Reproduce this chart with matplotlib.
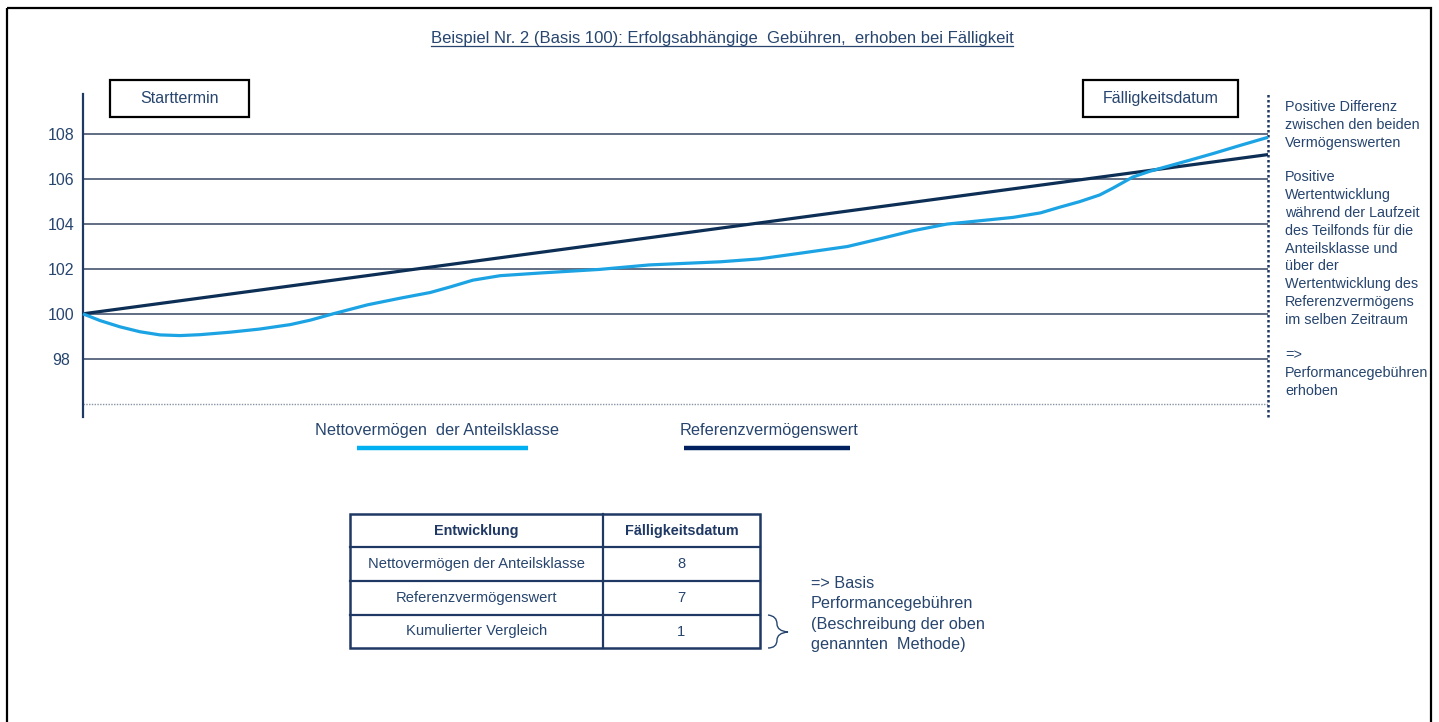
import matplotlib
matplotlib.use("Agg")
import matplotlib.pyplot as plt
from matplotlib.patches import Rectangle, PathPatch
from matplotlib.path import Path

plt.rcParams['font.family'] = ['Liberation Sans', 'DejaVu Sans']

# data (time in % of the period, value on basis 100)
NAV_T = [0, 1.43, 3.12, 4.81, 6.5, 8.19, 9.87, 12.4, 14.9, 17.5, 19.2, 21.1, 24.0,
         26.8, 29.3, 31.0, 32.9, 35.2, 38.6, 43.6, 47.8, 53.8, 57.1, 60.5, 64.5,
         67.3, 70.0, 72.9, 75.7, 78.5, 80.8, 82.4, 84.1, 85.8, 86.9, 88.6, 90.0,
         91.7, 93.4, 95.4, 97.6, 100]
NAV_V = [100.0, 99.7, 99.42, 99.2, 99.06, 99.03, 99.07, 99.18, 99.32, 99.52, 99.72,
         100.0, 100.4, 100.7, 100.95, 101.2, 101.5, 101.7, 101.82, 101.98, 102.18,
         102.32, 102.45, 102.7, 103.0, 103.35, 103.7, 104.0, 104.15, 104.3, 104.5,
         104.75, 105.0, 105.3, 105.6, 106.1, 106.35, 106.6, 106.85, 107.15, 107.5,
         107.87]
REF_T = [0, 100]
REF_V = [100.0, 107.1]

Y_TICKS = [98, 100, 102, 104, 106, 108]
FLOOR = 96

TITLE = "Beispiel Nr. 2 (Basis 100): Erfolgsabhängige  Gebühren,  erhoben bei Fälligkeit"
LEGEND = ["Nettovermögen  der Anteilsklasse", "Referenzvermögenswert"]
START_LABEL = "Starttermin"
END_LABEL = "Fälligkeitsdatum"

NOTE_BLOCKS = [
    ["Positive Differenz", "zwischen den beiden", "Vermögenswerten"],
    ["Positive", "Wertentwicklung", "während der Laufzeit", "des Teilfonds für die",
     "Anteilsklasse und", "über der", "Wertentwicklung des", "Referenzvermögens",
     "im selben Zeitraum"],
    ["=>", "Performancegebühren", "erhoben"],
]

TABLE_HEADER = ["Entwicklung", "Fälligkeitsdatum"]
TABLE_ROWS = ["Nettovermögen der Anteilsklasse", "Referenzvermögenswert", "Kumulierter Vergleich"]
TABLE_VALUES = [8, 7, 1]
BRACE_NOTE = ["=> Basis", "Performancegebühren", "(Beschreibung der oben", "genannten  Methode)"]

TXT = "#27456e"
LIGHT = "#1ca3e3"
DARK = "#0d2f55"
GRID = "#46546e"

W, H = 1439, 722
fig = plt.figure(figsize=(W / 100, H / 100), dpi=100)

# overlay in pixel coordinates for the decorations
ov = fig.add_axes([0, 0, 1, 1])
ov.set_xlim(0, W)
ov.set_ylim(H, 0)
ov.axis("off")

# chart area: x 83..1268 px, y 94..417 px
x0, x1, ytop, ybot = 83, 1268, 94, 417
ylo, yhi = 95.4, 109.8
ax = fig.add_axes([x0 / W, 1 - ybot / H, (x1 - x0) / W, (ybot - ytop) / H])
ax.set_xlim(0, 100)
ax.set_ylim(ylo, yhi)
ax.patch.set_alpha(0)
for s in ax.spines.values():
    s.set_visible(False)
ax.set_xticks([])
ax.set_yticks(Y_TICKS)
ax.set_yticklabels([str(v) for v in Y_TICKS])
ax.tick_params(axis="y", length=0, pad=15.5, labelsize=11.5, labelcolor=TXT)
for lab in ax.get_yticklabels():
    lab.set_ha("center")

ax.hlines(Y_TICKS, 0, 100, color=GRID, lw=1.2, zorder=1)
ax.hlines(FLOOR, 0, 100, color="#8a93a3", lw=1, linestyle=(0, (1, 1)), zorder=1)
ax.axvline(0, color="#1f3864", lw=1.6, zorder=3, clip_on=False)
ax.axvline(100, color="#1f3864", lw=1.8, linestyle=(0, (1, 1)), zorder=3, clip_on=False)

ax.plot(REF_T, REF_V, color=DARK, lw=2.3, zorder=4, solid_capstyle="butt", clip_on=False)
ax.plot(NAV_T, NAV_V, color=LIGHT, lw=2.3, zorder=5, solid_capstyle="butt",
        solid_joinstyle="round", clip_on=False)

# outer frame
ov.add_patch(Rectangle((7, 8), 1424, 730, fill=False, ec="black", lw=1.6))

# title, underlined
title = ov.text(722, 39, TITLE, ha="center", va="center", fontsize=12, color=TXT)
fig.canvas.draw()
bb = title.get_window_extent().transformed(ov.transData.inverted())
ov.plot([bb.x0, bb.x1], [bb.y0 - 1, bb.y0 - 1], color=TXT, lw=0.9)

# date boxes
for (bx, bw, label) in [(110, 139, START_LABEL), (1083, 155, END_LABEL)]:
    ov.add_patch(Rectangle((bx, 80), bw, 37, fill=False, ec="black", lw=1.6))
    ov.text(bx + bw / 2, 98.5, label, ha="center", va="center", fontsize=11.5, color=TXT)

# notes right of chart
for y_start, block in zip([107, 177, 355], NOTE_BLOCKS):
    for i, line in enumerate(block):
        ov.text(1285, y_start + i * 17.9, line, ha="left", va="center", fontsize=10.4, color=TXT)

# legend
for cx, (l0, l1), col, label in [(437, (357, 528), "#00b0f0", LEGEND[0]),
                                  (769, (684, 850), "#002060", LEGEND[1])]:
    ov.text(cx, 431, label, ha="center", va="center", fontsize=11.8, color=TXT)
    ov.plot([l0, l1], [448, 448], color=col, lw=3.2, solid_capstyle="butt")

# table
tx0, tx1, tx2 = 350, 603, 760
row_y = [514, 547, 581, 615, 648]
for y in row_y[1:-1]:
    ov.plot([tx0, tx2], [y, y], color="#1f3864", lw=1.6)
ov.plot([tx1, tx1], [row_y[0], row_y[-1]], color="#1f3864", lw=1.6)
ov.add_patch(Rectangle((tx0, row_y[0]), tx2 - tx0, row_y[-1] - row_y[0], fill=False,
                       ec="#1f3864", lw=1.8))
cy = (row_y[0] + row_y[1]) / 2
ov.text((tx0 + tx1) / 2, cy, TABLE_HEADER[0], ha="center", va="center", fontsize=10.4,
        fontweight="bold", color="#1f3864")
ov.text((tx1 + tx2) / 2, cy, TABLE_HEADER[1], ha="center", va="center", fontsize=10.4,
        fontweight="bold", color="#1f3864")
for i, (name, val) in enumerate(zip(TABLE_ROWS, TABLE_VALUES)):
    cy = (row_y[i + 1] + row_y[i + 2]) / 2
    ov.text((tx0 + tx1) / 2, cy, name, ha="center", va="center", fontsize=10.6, color=TXT)
    ov.text((tx1 + tx2) / 2, cy, str(val), ha="center", va="center", fontsize=10.6, color=TXT)

# brace next to last row
verts = [(768, 615), (777, 616), (777, 624), (777, 631), (788, 632),
         (777, 633), (777, 640), (777, 648), (768, 648)]
codes = [Path.MOVETO, Path.CURVE3, Path.CURVE3, Path.CURVE3, Path.CURVE3,
         Path.CURVE3, Path.CURVE3, Path.CURVE3, Path.CURVE3]
ov.add_patch(PathPatch(Path(verts, codes), fill=False, ec=TXT, lw=1))

for i, line in enumerate(BRACE_NOTE):
    ov.text(811, 583 + i * 20.6, line, ha="left", va="center", fontsize=11.7, color=TXT)

fig.savefig("out.png", dpi=100)
